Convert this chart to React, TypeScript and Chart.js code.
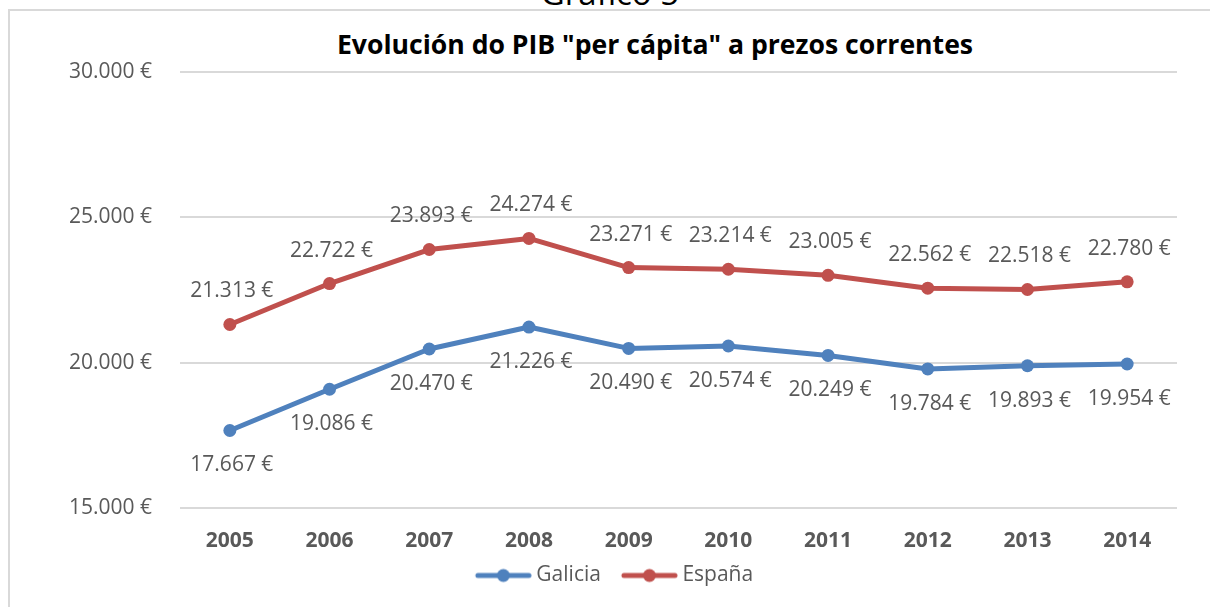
import React, { useEffect, useRef } from "react";
import { Chart, registerables } from "chart.js";

Chart.register(...registerables);

const years = ["2005", "2006", "2007", "2008", "2009", "2010", "2011", "2012", "2013", "2014"];
const galicia = [17667, 19086, 20470, 21226, 20490, 20574, 20249, 19784, 19893, 19954];
const espana = [21313, 22722, 23893, 24274, 23271, 23214, 23005, 22562, 22518, 22780];
const seriesNames = ["Galicia", "España"];
const seriesColors = ["#4F81BD", "#C0504D"];
const yMin = 15000;
const yMax = 30000;
const yStep = 5000;
const titleText = 'Evolución do PIB "per cápita" a prezos correntes';
const captionText = "Gráfico 5";

const FONT = '"Open Sans", "DejaVu Sans", sans-serif';
const GREY = "#595959";

function fmt(v: number): string {
  return String(Math.round(v)).replace(/\B(?=(\d{3})+(?!\d))/g, ".") + " €";
}

// legend marker: line with a dot, drawn with a transparent lead-in on the left
function makeMarker(color: string): HTMLCanvasElement {
  const c = document.createElement("canvas");
  c.width = 78;
  c.height = 16;
  const ctx = c.getContext("2d")!;
  ctx.strokeStyle = color;
  ctx.fillStyle = color;
  ctx.lineWidth = 5;
  ctx.lineCap = "round";
  ctx.beginPath();
  ctx.moveTo(24, 8);
  ctx.lineTo(75, 8);
  ctx.stroke();
  ctx.beginPath();
  ctx.arc(49.5, 8, 6.5, 0, Math.PI * 2);
  ctx.fill();
  return c;
}

const dataLabelPlugin = {
  id: "dataLabels",
  afterDatasetsDraw(chart: any) {
    const ctx = chart.ctx;
    ctx.save();
    ctx.font = `21px ${FONT}`;
    ctx.fillStyle = GREY;
    ctx.textAlign = "center";
    ctx.textBaseline = "middle";
    chart.data.datasets.forEach((ds: any, i: number) => {
      const meta = chart.getDatasetMeta(i);
      const off = i === 0 ? 35 : -33;
      meta.data.forEach((pt: any, j: number) => {
        ctx.fillText(fmt(ds.data[j]), pt.x + 2, pt.y + off);
      });
    });
    ctx.restore();
  },
};

export default function App() {
  const ref = useRef<HTMLCanvasElement | null>(null);

  useEffect(() => {
    if (!ref.current) return;
    const markers = seriesColors.map(makeMarker);
    const chart = new Chart(ref.current, {
      type: "line",
      data: {
        labels: years,
        datasets: [galicia, espana].map((d, i) => ({
          label: seriesNames[i],
          data: d,
          borderColor: seriesColors[i],
          backgroundColor: seriesColors[i],
          borderWidth: 5,
          borderCapStyle: "round",
          borderJoinStyle: "round",
          pointRadius: 6.5,
          pointBorderWidth: 0,
          pointBackgroundColor: seriesColors[i],
          pointHoverRadius: 6.5,
          tension: 0,
          fill: false,
        })),
      },
      options: {
        animation: false,
        responsive: false,
        maintainAspectRatio: false,
        layout: { padding: { left: 0, right: 43, top: 72, bottom: 11 } },
        scales: {
          x: {
            type: "category",
            offset: true,
            grid: { display: false, drawTicks: false },
            border: { display: false },
            ticks: {
              color: GREY,
              font: { family: FONT, size: 21, weight: "bold" },
              padding: 20,
            },
            afterFit: (s: any) => {
              s.height = 52;
            },
          },
          y: {
            min: yMin,
            max: yMax,
            grid: { color: "#D9D9D9", lineWidth: 2, drawTicks: false },
            border: { display: false },
            ticks: {
              stepSize: yStep,
              color: GREY,
              font: { family: FONT, size: 21 },
              padding: 28,
              callback: (v: any) => fmt(Number(v)),
            },
            afterFit: (s: any) => {
              s.width = 144;
            },
          },
        },
        plugins: {
          title: { display: false },
          tooltip: { enabled: false },
          legend: {
            display: true,
            position: "bottom",
            labels: {
              color: GREY,
              font: { family: FONT, size: 21 },
              usePointStyle: true,
              pointStyleWidth: 66,
              padding: 5,
              generateLabels: (c: any) =>
                c.data.datasets.map((ds: any, i: number) => ({
                  text: ds.label,
                  fillStyle: seriesColors[i],
                  strokeStyle: seriesColors[i],
                  lineWidth: 0,
                  pointStyle: markers[i],
                  datasetIndex: i,
                  hidden: false,
                  fontColor: GREY,
                })),
            },
          },
        },
      },
      plugins: [dataLabelPlugin],
    } as any);
    return () => chart.destroy();
  }, []);

  return (
    <div
      style={{
        position: "fixed",
        left: 0,
        top: 0,
        width: 1210,
        height: 607,
        overflow: "hidden",
        background: "#fff",
      }}
    >
      <div
        style={{
          position: "absolute",
          left: 0,
          top: -24,
          width: 1220,
          textAlign: "center",
          fontFamily: FONT,
          fontSize: 33,
          lineHeight: 1,
          color: "#000",
          whiteSpace: "nowrap",
        }}
      >
        {captionText}
      </div>
      <div
        style={{
          position: "absolute",
          left: 8,
          top: 9,
          width: 1400,
          height: 800,
          border: "2px solid #D9D9D9",
          boxSizing: "border-box",
        }}
      />
      <div
        style={{
          position: "absolute",
          left: 0,
          top: 29,
          width: 1310,
          textAlign: "center",
          fontFamily: FONT,
          fontSize: 26.6,
          fontWeight: "bold",
          lineHeight: 1.2,
          color: "#000",
          whiteSpace: "nowrap",
        }}
      >
        {titleText}
      </div>
      <canvas
        ref={ref}
        width={1184}
        height={607}
        style={{ position: "absolute", left: 36, top: 0, width: 1184, height: 607 }}
      />
    </div>
  );
}
